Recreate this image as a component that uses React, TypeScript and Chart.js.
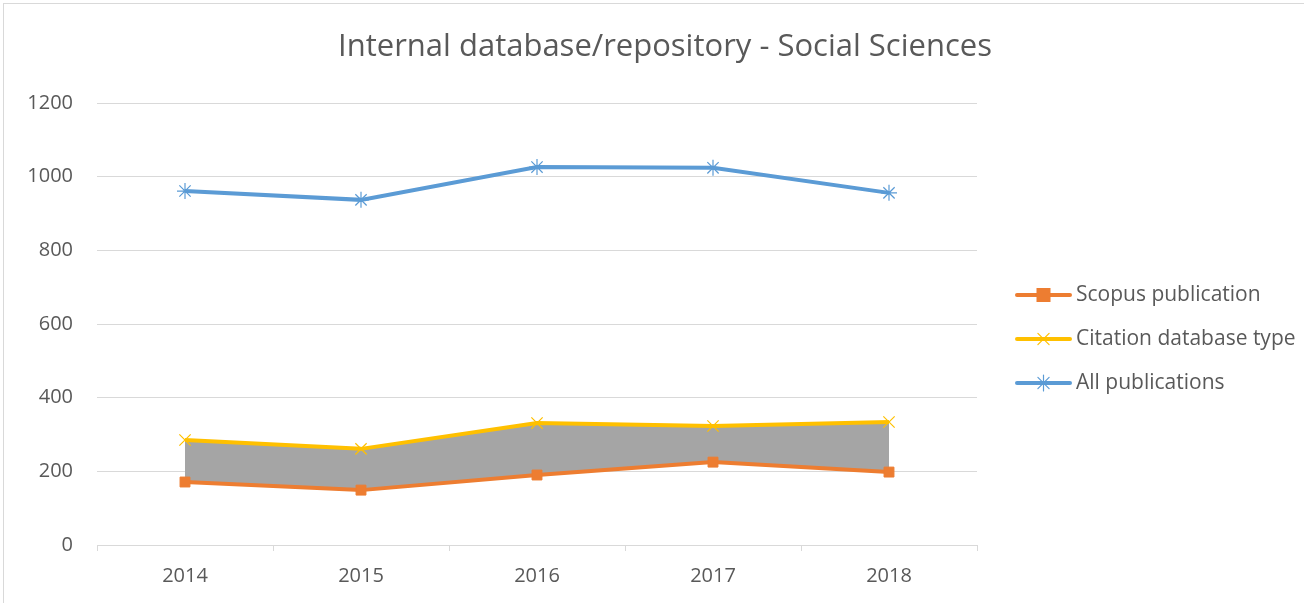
import React, { useEffect, useRef } from "react";
import { Chart, registerables } from "chart.js";

Chart.register(...registerables);

const years = ["2014", "2015", "2016", "2017", "2018"];
const scopus = [171, 149, 190, 225, 198];
const citation = [285, 261, 331, 323, 334];
const allPubs = [961, 937, 1026, 1024, 956];
const titleText = "Internal database/repository - Social Sciences";
const legendLabels = ["Scopus publication", "Citation database type", "All publications"];

const FONT = "'Open Sans', sans-serif";
const TEXT = "#595959";

const overlayPlugin = {
  id: "overlay",
  afterDraw(chart: any) {
    const ctx = chart.ctx;
    ctx.save();
    // title
    ctx.fillStyle = TEXT;
    ctx.font = `31px ${FONT}`;
    ctx.textAlign = "center";
    ctx.textBaseline = "middle";
    ctx.fillText(titleText, 665, 47);
    // legend
    const items = chart.data.datasets;
    const x0 = 1017;
    const x1 = 1070;
    items.forEach((ds: any, i: number) => {
      const y = 295 + i * 44;
      ctx.strokeStyle = ds.borderColor;
      ctx.lineWidth = 4;
      ctx.lineCap = "round";
      ctx.beginPath();
      ctx.moveTo(x0, y);
      ctx.lineTo(x1, y);
      ctx.stroke();
      const cx = (x0 + x1) / 2;
      const r = 8;
      ctx.lineWidth = 1.2;
      if (ds.pointStyle === "rect") {
        ctx.fillStyle = ds.pointBackgroundColor;
        ctx.fillRect(cx - 7, y - 7, 14, 14);
      } else if (ds.pointStyle === "crossRot") {
        ctx.strokeStyle = ds.pointBorderColor;
        ctx.beginPath();
        ctx.moveTo(cx - r * 0.7, y - r * 0.7);
        ctx.lineTo(cx + r * 0.7, y + r * 0.7);
        ctx.moveTo(cx + r * 0.7, y - r * 0.7);
        ctx.lineTo(cx - r * 0.7, y + r * 0.7);
        ctx.stroke();
      } else {
        ctx.strokeStyle = ds.pointBorderColor;
        ctx.beginPath();
        ctx.moveTo(cx - r * 0.7, y - r * 0.7);
        ctx.lineTo(cx + r * 0.7, y + r * 0.7);
        ctx.moveTo(cx + r * 0.7, y - r * 0.7);
        ctx.lineTo(cx - r * 0.7, y + r * 0.7);
        ctx.moveTo(cx, y - r);
        ctx.lineTo(cx, y + r);
        ctx.stroke();
      }
      ctx.fillStyle = TEXT;
      ctx.font = `21px ${FONT}`;
      ctx.textAlign = "left";
      ctx.textBaseline = "middle";
      ctx.fillText(legendLabels[i], 1076, y);
    });
    ctx.restore();
  },
};

export default function App() {
  const ref = useRef<HTMLCanvasElement>(null);
  useEffect(() => {
    if (!ref.current) return;
    const chart = new Chart(ref.current, {
      type: "line",
      data: {
        labels: years,
        datasets: [
          {
            label: legendLabels[0],
            data: scopus,
            borderColor: "#ed7d31",
            backgroundColor: "#ed7d31",
            borderWidth: 4,
            pointStyle: "rect",
            pointRadius: 7,
            pointBackgroundColor: "#ed7d31",
            pointBorderColor: "#ed7d31",
            pointBorderWidth: 1,
            tension: 0,
            fill: false,
          },
          {
            label: legendLabels[1],
            data: citation,
            borderColor: "#ffc000",
            backgroundColor: "#a5a5a5",
            borderWidth: 4,
            pointStyle: "crossRot",
            pointRadius: 8,
            pointBackgroundColor: "#ffc000",
            pointBorderColor: "#ffc000",
            pointBorderWidth: 1.2,
            tension: 0,
            fill: "-1",
          },
          {
            label: legendLabels[2],
            data: allPubs,
            borderColor: "#5b9bd5",
            backgroundColor: "#5b9bd5",
            borderWidth: 4,
            pointStyle: "star",
            pointRadius: 8,
            pointBackgroundColor: "#5b9bd5",
            pointBorderColor: "#5b9bd5",
            pointBorderWidth: 1.2,
            tension: 0,
            fill: false,
          },
        ],
      },
      options: {
        animation: false,
        responsive: false,
        maintainAspectRatio: false,
        layout: { padding: { top: 103, right: 327, left: 0, bottom: 0 } },
        plugins: {
          legend: { display: false },
          title: { display: false },
          tooltip: { enabled: false },
        },
        scales: {
          x: {
            offset: true,
            afterFit: (s: any) => { s.height = 58; },
            grid: {
              offset: true,
              drawOnChartArea: false,
              drawTicks: true,
              tickLength: 6,
              color: "#d9d9d9",
            },
            border: { display: true, color: "#d9d9d9", width: 1 },
            ticks: { color: TEXT, font: { family: FONT, size: 20 }, padding: 13 },
          },
          y: {
            min: 0,
            max: 1200,
            afterFit: (s: any) => { s.width = 97; },
            grid: { drawTicks: false, color: "#d9d9d9", lineWidth: 1 },
            border: { display: false },
            ticks: {
              stepSize: 200,
              color: TEXT,
              font: { family: FONT, size: 20 },
              padding: 24,
              callback: (v: any) => String(v),
            },
          },
        },
      },
      plugins: [overlayPlugin],
    });
    return () => chart.destroy();
  }, []);
  return (
    <div style={{ position: "absolute", left: 0, top: 0, width: 1304, height: 603, background: "#fff" }}>
      <div style={{ position: "absolute", left: 3, top: 3, width: 1310, height: 620, border: "1px solid #d9d9d9", boxSizing: "border-box" }} />
      <canvas ref={ref} width={1304} height={603} style={{ position: "absolute", left: 0, top: 0 }} />
    </div>
  );
}
